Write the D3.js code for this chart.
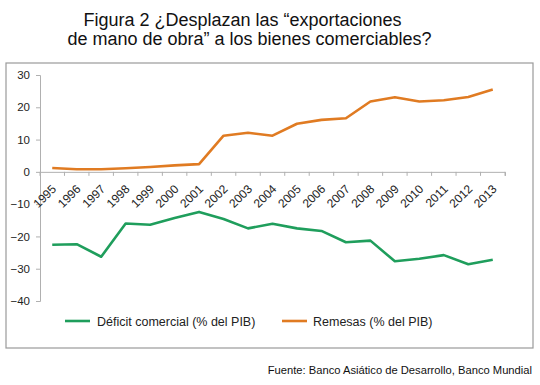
<!DOCTYPE html>
<html><head><meta charset="utf-8">
<script src="https://cdn.jsdelivr.net/npm/d3@7"></script>
<style>body{margin:0;background:#fff;} text{font-family:"Liberation Sans",Arial,sans-serif;}</style>
</head><body><svg id="c" width="540" height="385"></svg>
<script>
const years = ["1995","1996","1997","1998","1999","2000","2001","2002","2003","2004","2005","2006","2007","2008","2009","2010","2011","2012","2013"];
const remesas = [1.2,0.8,0.8,1.1,1.5,2.0,2.4,11.2,12.1,11.2,14.9,16.1,16.6,21.8,23.1,21.8,22.2,23.2,25.5];
const deficit = [-22.6,-22.4,-26.3,-16.0,-16.4,-14.3,-12.4,-14.6,-17.5,-16.1,-17.5,-18.3,-21.8,-21.3,-27.7,-26.9,-25.8,-28.6,-27.2];
const yTicks = [30,20,10,0,-10,-20,-30,-40];
const seriesNames = ["Déficit comercial (% del PIB)","Remesas (% del PIB)"];
const colors = ["#1f9e5c","#e07b22"];

const svg = d3.select("#c");
svg.append("text").attr("x",242.5).attr("y",25.5).attr("text-anchor","middle").attr("font-size",18).attr("fill","#111").text("Figura 2 ¿Desplazan las “exportaciones");
svg.append("text").attr("x",249.5).attr("y",45).attr("text-anchor","middle").attr("font-size",18).attr("fill","#111").text("de mano de obra” a los bienes comerciables?");
svg.append("rect").attr("x",6).attr("y",63).attr("width",527).attr("height",285).attr("fill","none").attr("stroke","#9a9a9a").attr("stroke-width",1.2);

const x = d3.scaleBand().domain(years).range([40,505]);
const y = d3.scaleLinear().domain([-40,30]).range([301,75]);

const ya = svg.append("g").attr("transform","translate(40,0)").call(d3.axisLeft(y).tickValues(yTicks).tickSize(4).tickPadding(6).tickFormat(d3.format("d")));
ya.selectAll("text").attr("font-size",11.5).attr("fill","#222").attr("font-family","Liberation Sans,Arial,sans-serif");
ya.selectAll("line,path").attr("stroke","#b0b0b0");

const xa = svg.append("g").attr("transform",`translate(0,${y(0)})`).call(d3.axisBottom(x).tickSize(4).tickPadding(0).tickFormat(d=>d));
xa.select(".domain").attr("stroke","#b0b0b0");
xa.selectAll(".tick line").attr("stroke","#b0b0b0").attr("transform",`translate(${-x.bandwidth()/2},0)`);
xa.selectAll(".tick text").attr("font-size",12).attr("fill","#222").attr("font-family","Liberation Sans,Arial,sans-serif")
  .attr("text-anchor","end").attr("dy",0).attr("transform","translate(2,15) rotate(-45)");
svg.append("line").attr("x1",505).attr("x2",505).attr("y1",y(0)).attr("y2",y(0)+4).attr("stroke","#b0b0b0");

const line = d3.line().x((d,i)=>x(years[i])+x.bandwidth()/2).y(d=>y(d));
[deficit,remesas].forEach((s,i)=>{
  svg.append("path").datum(s).attr("d",line).attr("fill","none").attr("stroke",colors[i]).attr("stroke-width",2.6).attr("stroke-linejoin","round");
});

const lg = [[65,97],[282,313]];
seriesNames.forEach((n,i)=>{
  svg.append("line").attr("x1",lg[i][0]).attr("x2",lg[i][0]+25).attr("y1",321).attr("y2",321).attr("stroke",colors[i]).attr("stroke-width",2.6);
  svg.append("text").attr("x",lg[i][1]).attr("y",325.5).attr("font-size",12.5).attr("fill","#222").text(n);
});
svg.append("text").attr("x",532).attr("y",374).attr("text-anchor","end").attr("font-size",11.2).attr("fill","#111").text("Fuente: Banco Asiático de Desarrollo, Banco Mundial");
</script></body></html>
